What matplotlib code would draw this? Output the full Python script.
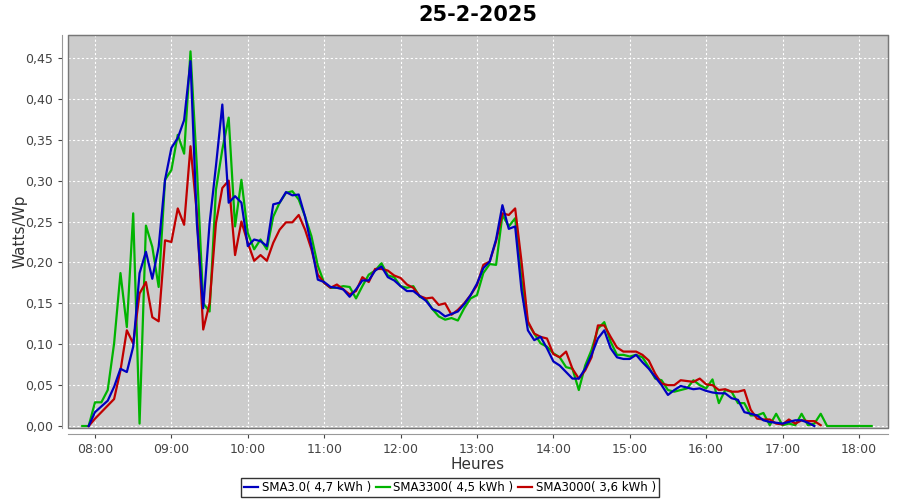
import numpy as np
import matplotlib
matplotlib.use("Agg")
import matplotlib.pyplot as plt
from matplotlib.ticker import FuncFormatter

nan = np.nan

# heures (pas de 5 minutes, de 07:50 a 18:10)
start_h = 7 + 50 / 60
n_pts = 125
heures = [start_h + i * 5 / 60 for i in range(n_pts)]

# SMA3.0 (bleu)
sma30 = [nan, 0.000, 0.017, 0.024, 0.031, 0.048, 0.070, 0.066, 0.097, 0.187,
         0.213, 0.180, 0.219, 0.301, 0.340, 0.352, 0.374, 0.446, 0.248, 0.144,
         0.248, 0.318, 0.393, 0.273, 0.281, 0.273, 0.220, 0.228, 0.226, 0.220,
         0.271, 0.273, 0.286, 0.282, 0.283, 0.256, 0.220, 0.179, 0.176, 0.170,
         0.169, 0.167, 0.158, 0.167, 0.178, 0.178, 0.190, 0.195, 0.182, 0.178,
         0.171, 0.165, 0.165, 0.159, 0.153, 0.143, 0.140, 0.134, 0.137, 0.140,
         0.149, 0.160, 0.174, 0.193, 0.201, 0.228, 0.270, 0.241, 0.244, 0.166,
         0.117, 0.105, 0.109, 0.095, 0.079, 0.074, 0.066, 0.058, 0.058, 0.070,
         0.087, 0.107, 0.117, 0.095, 0.084, 0.082, 0.082, 0.087, 0.078, 0.070,
         0.060, 0.050, 0.038, 0.044, 0.049, 0.047, 0.045, 0.046, 0.043, 0.041,
         0.040, 0.040, 0.034, 0.032, 0.017, 0.015, 0.013, 0.007, 0.005, 0.004,
         0.003, 0.005, 0.007, 0.007, 0.004, 0.000, nan, nan, nan, nan,
         nan, nan, nan, nan, nan]

# SMA3300 (vert)
sma3300 = [0.000, 0.000, 0.029, 0.029, 0.044, 0.101, 0.187, 0.121, 0.260, 0.003,
           0.245, 0.219, 0.170, 0.301, 0.313, 0.356, 0.333, 0.458, 0.317, 0.150,
           0.140, 0.289, 0.338, 0.377, 0.244, 0.301, 0.236, 0.216, 0.228, 0.216,
           0.256, 0.273, 0.285, 0.287, 0.277, 0.256, 0.232, 0.196, 0.175, 0.169,
           0.169, 0.171, 0.170, 0.156, 0.171, 0.185, 0.190, 0.199, 0.184, 0.182,
           0.171, 0.169, 0.171, 0.158, 0.155, 0.143, 0.134, 0.130, 0.132, 0.129,
           0.144, 0.156, 0.160, 0.187, 0.198, 0.197, 0.258, 0.244, 0.254, 0.179,
           0.126, 0.113, 0.101, 0.097, 0.089, 0.084, 0.072, 0.070, 0.044, 0.074,
           0.093, 0.119, 0.127, 0.103, 0.087, 0.087, 0.085, 0.087, 0.084, 0.072,
           0.058, 0.056, 0.044, 0.042, 0.044, 0.046, 0.056, 0.050, 0.046, 0.057,
           0.028, 0.044, 0.042, 0.028, 0.028, 0.013, 0.013, 0.016, 0.001, 0.015,
           0.001, 0.003, 0.001, 0.015, 0.001, 0.003, 0.015, 0.000, 0.000, 0.000,
           0.000, 0.000, 0.000, 0.000, 0.000]

# SMA3000 (rouge)
sma3000 = [nan, 0.000, 0.009, 0.017, 0.025, 0.033, 0.068, 0.117, 0.101, 0.162,
           0.176, 0.133, 0.128, 0.227, 0.225, 0.266, 0.246, 0.342, 0.260, 0.118,
           0.150, 0.248, 0.291, 0.300, 0.209, 0.250, 0.224, 0.202, 0.209, 0.202,
           0.224, 0.240, 0.249, 0.249, 0.258, 0.240, 0.216, 0.185, 0.175, 0.169,
           0.173, 0.167, 0.161, 0.165, 0.182, 0.176, 0.192, 0.192, 0.190, 0.184,
           0.181, 0.173, 0.169, 0.159, 0.156, 0.157, 0.148, 0.150, 0.136, 0.142,
           0.150, 0.160, 0.172, 0.197, 0.201, 0.226, 0.260, 0.258, 0.266, 0.201,
           0.128, 0.113, 0.109, 0.107, 0.088, 0.084, 0.091, 0.070, 0.058, 0.068,
           0.084, 0.123, 0.123, 0.109, 0.096, 0.091, 0.091, 0.091, 0.087, 0.080,
           0.064, 0.052, 0.050, 0.050, 0.056, 0.055, 0.054, 0.058, 0.051, 0.050,
           0.044, 0.045, 0.042, 0.042, 0.044, 0.020, 0.009, 0.008, 0.008, 0.003,
           0.002, 0.008, 0.003, 0.007, 0.006, 0.006, 0.001, nan, nan, nan,
           nan, nan, nan, nan, nan]

labels = ["SMA3.0( 4,7 kWh )", "SMA3300( 4,5 kWh )", "SMA3000( 3,6 kWh )"]
tick_heures = list(range(8, 19))

fig = plt.figure(figsize=(9, 5), dpi=100)
ax = fig.add_axes([0.0756, 0.144, 0.911, 0.786])
ax.set_facecolor("#cccccc")

l_green, = ax.plot(heures, sma3300, color="#00b400", lw=1.6, zorder=3)
l_red, = ax.plot(heures, sma3000, color="#c00000", lw=1.6, zorder=4)
l_blue, = ax.plot(heures, sma30, color="#0000c0", lw=1.6, zorder=5)

ax.set_xlim(7.647, 18.38)
ax.set_ylim(-0.0024, 0.478)
ax.set_xticks(tick_heures)
ax.set_xticklabels(["%02d:00" % h for h in tick_heures])
ax.set_yticks(np.arange(0, 0.46, 0.05))
ax.yaxis.set_major_formatter(FuncFormatter(lambda v, p: ("%.2f" % v).replace(".", ",")))
ax.tick_params(labelsize=9, colors="#444444", length=3)
for lab in ax.get_xticklabels() + ax.get_yticklabels():
    lab.set_color("#333333")

ax.grid(True, color="white", linestyle=(0, (2, 2)), linewidth=0.8)
ax.set_axisbelow(True)
for s in ["top", "right"]:
    ax.spines[s].set_color("#888888")
ax.spines["left"].set_position(("outward", 4))
ax.spines["bottom"].set_position(("outward", 4))
ax.spines["left"].set_color("#999999")
ax.spines["bottom"].set_color("#999999")
# contour du cadre
ax.add_patch(plt.Rectangle((0, 0), 1, 1, transform=ax.transAxes, fill=False,
                           edgecolor="#777777", lw=1, zorder=6, clip_on=False))

ax.set_title("25-2-2025", fontsize=15, fontweight="bold", pad=10)
ax.set_xlabel("Heures", fontsize=11, color="#333333", labelpad=1)
ax.set_ylabel("Watts/Wp", fontsize=11, color="#333333", labelpad=0)
ax.yaxis.set_label_coords(-0.05, 0.5)

leg = fig.legend([l_blue, l_green, l_red], labels, loc="center",
                 bbox_to_anchor=(0.5, 0.025), ncol=3, fontsize=8.5,
                 frameon=True, fancybox=False, handlelength=1.2,
                 handletextpad=0.3, columnspacing=0.4, borderpad=0.25)
leg.get_frame().set_edgecolor("black")
leg.get_frame().set_linewidth(1)

fig.savefig("out.png", dpi=100)
